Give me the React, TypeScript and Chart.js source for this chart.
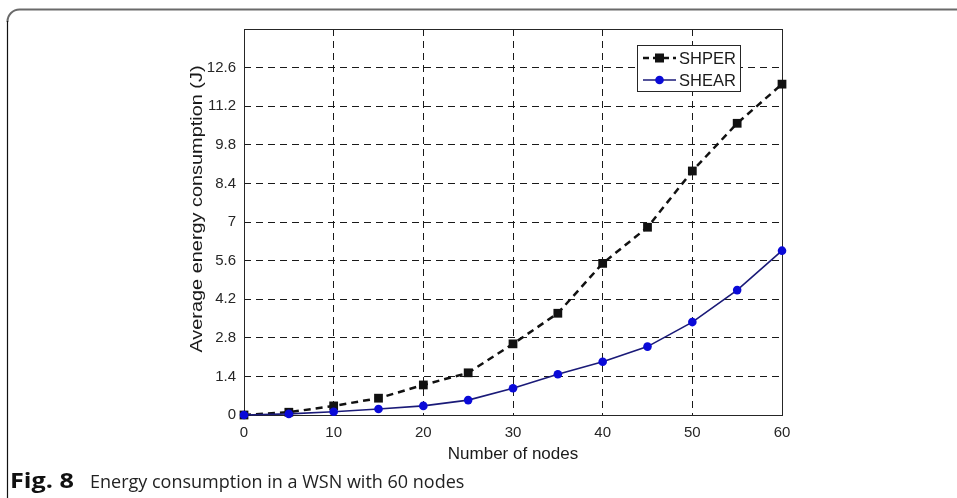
import React, { useEffect, useRef } from "react";
import { Chart, registerables } from "chart.js";

Chart.register(...registerables);

// Number of nodes in the network
const NODES = [0, 5, 10, 15, 20, 25, 30, 35, 40, 45, 50, 55, 60];
// Average energy consumption (J) per protocol
const SHPER = [0, 0.1, 0.33, 0.61, 1.09, 1.53, 2.58, 3.69, 5.5, 6.81, 8.85, 10.58, 12.0];
const SHEAR = [0, 0.04, 0.12, 0.22, 0.33, 0.54, 0.97, 1.48, 1.93, 2.48, 3.37, 4.53, 5.96];
const SERIES_NAMES = ["SHPER", "SHEAR"];
const Y_TICKS = [0, 1.4, 2.8, 4.2, 5.6, 7, 8.4, 9.8, 11.2, 12.6];
const X_TICKS = [0, 10, 20, 30, 40, 50, 60];
const X_TITLE = "Number of nodes";
const Y_TITLE = "Average energy consumption (J)";
const CAPTION_LABEL = "Fig. 8";
const CAPTION_TEXT = "Energy consumption in a WSN with 60 nodes";

const W = 957;
const H = 498;
const AXIS_FONT = '"Liberation Sans", Arial, sans-serif';
const CAPTION_FONT = '"Open Sans", "Noto Sans", sans-serif';
const SHPER_COLOR = "#111111";
const SHEAR_LINE = "#1a1a78";
const SHEAR_MARK = "#0a0ad8";

const figurePlugin = {
  id: "figureDecor",
  beforeDraw(chart: any) {
    const ctx = chart.ctx;
    ctx.save();
    ctx.fillStyle = "#ffffff";
    ctx.fillRect(0, 0, chart.width, chart.height);
    // panel frame with a rounded top-left corner
    ctx.strokeStyle = "#6a6a6a";
    ctx.lineWidth = 2;
    ctx.beginPath();
    ctx.moveTo(7.5, 22);
    ctx.arcTo(7.5, 9.5, 20, 9.5, 12);
    ctx.lineTo(chart.width, 9.5);
    ctx.stroke();
    ctx.strokeStyle = "#111111";
    ctx.lineWidth = 1.2;
    ctx.beginPath();
    ctx.moveTo(7.5, 21);
    ctx.lineTo(7.5, chart.height);
    ctx.stroke();
    ctx.restore();
  },
  beforeDatasetsDraw(chart: any) {
    const { ctx, chartArea } = chart;
    ctx.save();
    ctx.strokeStyle = "#262626";
    ctx.lineWidth = 1;
    ctx.strokeRect(
      Math.round(chartArea.left) + 0.5,
      Math.round(chartArea.top) + 0.5,
      Math.round(chartArea.right - chartArea.left),
      Math.round(chartArea.bottom - chartArea.top)
    );
    // vertical axis title, slightly widened lettering
    ctx.translate(197, 209);
    ctx.rotate(-Math.PI / 2);
    ctx.scale(1.17, 1);
    ctx.font = `17px ${AXIS_FONT}`;
    ctx.fillStyle = "#1a1a1a";
    ctx.textAlign = "center";
    ctx.textBaseline = "middle";
    ctx.fillText(Y_TITLE, 0, 0);
    ctx.restore();
  },
  afterDatasetsDraw(chart: any) {
    const ctx = chart.ctx;
    ctx.save();
    // legend box
    const bx = 637.5, by = 45.5, bw = 103, bh = 46;
    ctx.fillStyle = "#ffffff";
    ctx.fillRect(bx, by, bw, bh);
    ctx.strokeStyle = "#262626";
    ctx.lineWidth = 1;
    ctx.strokeRect(bx, by, bw, bh);
    const rows = [58, 80];
    const x0 = 643, x1 = 676, xm = 659.5;
    // SHPER entry
    ctx.strokeStyle = SHPER_COLOR;
    ctx.lineWidth = 2.5;
    ctx.setLineDash([6, 4]);
    ctx.beginPath();
    ctx.moveTo(x0, rows[0]);
    ctx.lineTo(x1, rows[0]);
    ctx.stroke();
    ctx.setLineDash([]);
    ctx.fillStyle = SHPER_COLOR;
    ctx.fillRect(xm - 4.5, rows[0] - 4.5, 9, 9);
    // SHEAR entry
    ctx.strokeStyle = SHEAR_LINE;
    ctx.lineWidth = 1.6;
    ctx.beginPath();
    ctx.moveTo(x0, rows[1]);
    ctx.lineTo(x1, rows[1]);
    ctx.stroke();
    ctx.fillStyle = SHEAR_MARK;
    ctx.beginPath();
    ctx.arc(xm, rows[1], 4.3, 0, Math.PI * 2);
    ctx.fill();
    ctx.fillStyle = "#1a1a1a";
    ctx.font = `16.5px ${AXIS_FONT}`;
    ctx.textBaseline = "middle";
    ctx.textAlign = "left";
    ctx.fillText(SERIES_NAMES[0], 679, rows[0] + 1);
    ctx.fillText(SERIES_NAMES[1], 679, rows[1] + 1);
    ctx.restore();
  },
  afterDraw(chart: any) {
    const ctx = chart.ctx;
    ctx.save();
    ctx.fillStyle = "#111111";
    ctx.textBaseline = "alphabetic";
    ctx.textAlign = "left";
    ctx.save();
    ctx.translate(10, 488);
    ctx.scale(1.2, 1);
    ctx.font = `bold 21px ${CAPTION_FONT}`;
    ctx.fillText(CAPTION_LABEL, 0, 0);
    ctx.restore();
    ctx.font = `18px ${CAPTION_FONT}`;
    ctx.fillStyle = "#222222";
    ctx.fillText(CAPTION_TEXT, 90, 488, 377);
    ctx.restore();
  },
};

export default function App() {
  const canvasRef = useRef<HTMLCanvasElement | null>(null);

  useEffect(() => {
    const canvas = canvasRef.current;
    if (!canvas) return;
    const chart = new Chart(canvas, {
      type: "line",
      data: {
        datasets: [
          {
            label: SERIES_NAMES[0],
            data: NODES.map((n, i) => ({ x: n, y: SHPER[i] })),
            borderColor: SHPER_COLOR,
            backgroundColor: SHPER_COLOR,
            borderWidth: 2.5,
            borderDash: [7, 5],
            pointStyle: "rect",
            pointRadius: 6.2,
            pointBorderWidth: 0,
            pointBackgroundColor: SHPER_COLOR,
            tension: 0,
            clip: false,
            order: 2,
          },
          {
            label: SERIES_NAMES[1],
            data: NODES.map((n, i) => ({ x: n, y: SHEAR[i] })),
            borderColor: SHEAR_LINE,
            backgroundColor: SHEAR_MARK,
            borderWidth: 1.6,
            pointStyle: "circle",
            pointRadius: 4.3,
            pointBorderWidth: 0,
            pointBackgroundColor: SHEAR_MARK,
            tension: 0,
            clip: false,
            order: 1,
          },
        ],
      },
      options: {
        responsive: false,
        animation: false,
        devicePixelRatio: 1,
        layout: { padding: { left: 184, right: 175, top: 29, bottom: 33 } },
        plugins: {
          legend: { display: false },
          tooltip: { enabled: false },
        },
        scales: {
          x: {
            type: "linear",
            min: 0,
            max: 60,
            afterBuildTicks: (scale: any) => {
              scale.ticks = X_TICKS.map((v) => ({ value: v }));
            },
            afterFit: (scale: any) => {
              scale.height = 50;
            },
            ticks: {
              padding: 9,
              color: "#262626",
              font: { family: AXIS_FONT, size: 15 },
              callback: (v: any) => String(v),
            },
            grid: {
              drawTicks: false,
              lineWidth: 1,
              color: (c: any) =>
                c.tick && (c.tick.value === 0 || c.tick.value === 60) ? "rgba(0,0,0,0)" : "#1a1a1a",
            },
            border: { display: false, dash: [7, 5] },
            title: {
              display: true,
              text: X_TITLE,
              color: "#1a1a1a",
              font: { family: AXIS_FONT, size: 17 },
              padding: 0,
            },
          },
          y: {
            type: "linear",
            min: 0,
            max: 14,
            afterBuildTicks: (scale: any) => {
              scale.ticks = Y_TICKS.map((v) => ({ value: v }));
            },
            afterFit: (scale: any) => {
              scale.width = 60;
            },
            ticks: {
              padding: 8,
              color: "#262626",
              font: { family: AXIS_FONT, size: 15 },
              callback: (v: any) => String(Number(Number(v).toFixed(1))),
            },
            grid: {
              drawTicks: false,
              lineWidth: 1,
              color: (c: any) => (c.tick && c.tick.value === 0 ? "rgba(0,0,0,0)" : "#1a1a1a"),
            },
            border: { display: false, dash: [7, 5] },
          },
        },
      },
      plugins: [figurePlugin],
    } as any);
    return () => chart.destroy();
  }, []);

  return (
    <div style={{ position: "fixed", left: 0, top: 0, width: W, height: H, background: "#fff" }}>
      <canvas ref={canvasRef} width={W} height={H} style={{ display: "block", width: W, height: H }} />
    </div>
  );
}
